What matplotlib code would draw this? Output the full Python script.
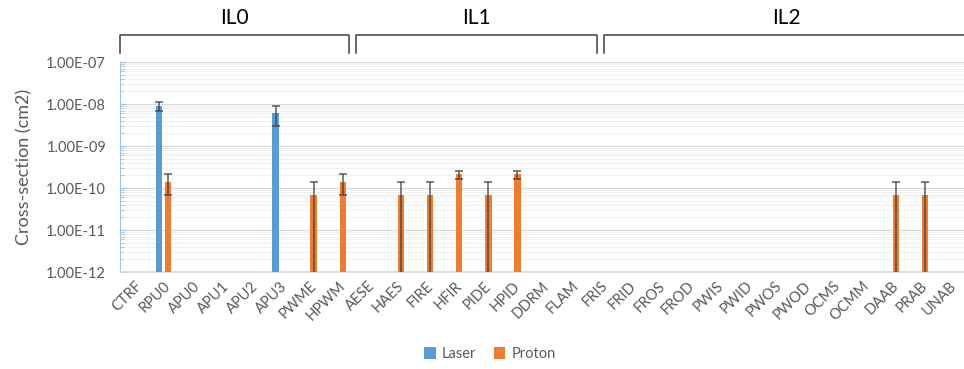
import numpy as np
import matplotlib.pyplot as plt
from matplotlib.ticker import LogLocator, FuncFormatter, NullFormatter

plt.rcParams['font.family'] = ['Lato', 'DejaVu Sans']

# категории и группы
categories = ['CTRF', 'RPU0', 'APU0', 'APU1', 'APU2', 'APU3', 'PWME', 'HPWM',
              'AESE', 'HAES', 'FIRE', 'HFIR', 'PIDE', 'HPID', 'DDRM', 'FLAM',
              'FRIS', 'FRID', 'FROS', 'FROD', 'PWIS', 'PWID', 'PWOS', 'PWOD',
              'OCMS', 'OCMM', 'DAAB', 'PRAB', 'UNAB']
groups = ['IL0', 'IL1', 'IL2']
group_edges = [(-0.5, 7.5), (7.5, 16), (16, 28.5)]

# значения сечений (0 = нет данных)
laser = [0, 9e-9, 0, 0, 0, 6e-9, 0, 0,
         0, 0, 0, 0, 0, 0, 0, 0,
         0, 0, 0, 0, 0, 0, 0, 0, 0, 0, 0, 0, 0]
laser_err = [0, 2e-9, 0, 0, 0, 3e-9, 0, 0,
             0, 0, 0, 0, 0, 0, 0, 0,
             0, 0, 0, 0, 0, 0, 0, 0, 0, 0, 0, 0, 0]
proton = [0, 1.4e-10, 0, 0, 0, 0, 7e-11, 1.4e-10,
          0, 7e-11, 7e-11, 2.1e-10, 7e-11, 2.1e-10, 0, 0,
          0, 0, 0, 0, 0, 0, 0, 0, 0, 0, 7e-11, 7e-11, 0]
proton_err = [0, 7e-11, 0, 0, 0, 0, 7e-11, 7e-11,
              0, 7e-11, 7e-11, 5e-11, 7e-11, 5e-11, 0, 0,
              0, 0, 0, 0, 0, 0, 0, 0, 0, 0, 7e-11, 7e-11, 0]

blue = '#5B9BD5'
orange = '#ED7D31'
txt = '#595959'

fig = plt.figure(figsize=(9.64, 3.69), dpi=100)
ax = fig.add_axes([120/964, 1-272/369, 844/964, 210/369])

x = np.arange(len(categories))
w = 0.22
off = 0.155

def draw(vals, errs, shift, color, label):
	v = np.array(vals, dtype=float)
	e = np.array(errs, dtype=float)
	m = v > 0
	ax.bar(x[m] + shift, v[m], w, color=color, label=label, zorder=3)
	lo = np.minimum(e[m], v[m] * 0.999)
	ax.errorbar(x[m] + shift, v[m], yerr=[lo, e[m]], fmt='none',
	            ecolor='#404040', elinewidth=1.1, capsize=3, capthick=1.1,
	            alpha=0.85, zorder=4)

draw(laser, laser_err, -off, blue, 'Laser')
draw(proton, proton_err, off, orange, 'Proton')

ax.set_yscale('log')
ax.set_ylim(1e-12, 1e-7)
ax.set_xlim(-0.5, len(categories) - 0.5)

ax.yaxis.set_major_locator(LogLocator(base=10, numticks=10))
ax.yaxis.set_minor_locator(LogLocator(base=10, subs=np.arange(2, 10), numticks=20))
ax.yaxis.set_major_formatter(FuncFormatter(lambda v, p: '%.2E' % v))
ax.yaxis.set_minor_formatter(NullFormatter())
ax.grid(True, which='major', axis='y', color='#d9d9d9', lw=0.9, zorder=0)
ax.grid(True, which='minor', axis='y', color='#f0f0f0', lw=0.8, zorder=0)

ax.set_xticks(x)
ax.set_xticklabels(categories, rotation=45, ha='right', rotation_mode='anchor',
                   fontsize=10.5, color=txt)
ax.tick_params(axis='x', length=0, pad=5)
ax.tick_params(axis='y', which='both', direction='in', color='#9DC3E6',
               labelsize=10.5, labelcolor=txt, pad=10)
ax.tick_params(axis='y', which='major', length=4)
ax.tick_params(axis='y', which='minor', length=3)

for s in ['top', 'right']:
	ax.spines[s].set_visible(False)
ax.spines['left'].set_color('#9DC3E6')
ax.spines['bottom'].set_color('#d9d9d9')
ax.spines['bottom'].set_linewidth(1.2)

ax.set_ylabel('Cross-section (cm2)', fontsize=13, color=txt, labelpad=10)

# скобки групп сверху
trans = ax.get_xaxis_transform()
gap = 0.12
for name, (a, b) in zip(groups, group_edges):
	a2 = a + gap if a > -0.5 else a
	b2 = b - gap if b < len(categories) - 0.5 else b + 0.2
	ax.plot([a2, a2, b2, b2], [1.043, 1.129, 1.129, 1.043], color='#404040',
	        lw=1.1, transform=trans, clip_on=False)
	ax.text((a2 + b2) / 2, 1.21, name, transform=trans, ha='center',
	        va='center', fontsize=15, color='black')

fig.legend(loc='center', bbox_to_anchor=(490/964, 1-354/369), ncol=2,
           frameon=False, fontsize=10.5, labelcolor=txt, handlelength=0.8,
           handleheight=0.8, handletextpad=0.4, columnspacing=1.2)

fig.savefig('out.png', dpi=100)
